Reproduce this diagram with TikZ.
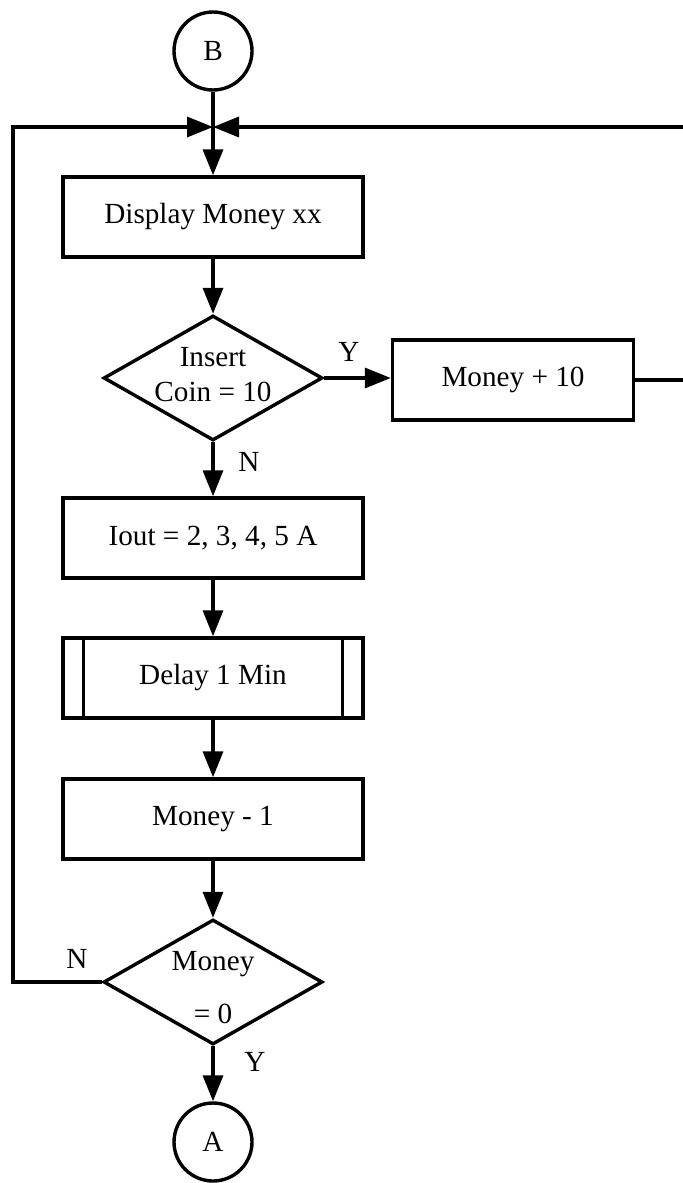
\documentclass[tikz,border=0pt]{standalone}
\usepackage{fontspec}
\setmainfont{Liberation Serif}
\usetikzlibrary{shapes.geometric,arrows.meta}
\begin{document}
\begin{tikzpicture}[
    x=0.5pt, y=-0.5pt,
    line width=1.7pt,
    font=\fontsize{14.6}{17.5}\selectfont,
    flowbox/.style={draw,rectangle,minimum width=150pt,minimum height=40pt,inner sep=0pt},
    decision/.style={draw,diamond,minimum width=109.5pt,minimum height=62.5pt,inner sep=0pt},
    connector/.style={draw,circle,minimum size=39pt,inner sep=0pt},
    flow/.style={-{Triangle[length=13pt,width=10pt]}}
  ]
  \useasboundingbox (0,0) rectangle (683,1183);
  \clip (0,0) rectangle (683,1183);

  \node[connector] (B) at (213,51) {B};
  \coordinate (join) at (213,127);
  \coordinate (lbend) at (13,127);
  \coordinate (rbend) at (690,127);

  \node[flowbox] (disp) at (213,217) {Display Money xx};
  \node[decision] (coin) at (213,378) {};
  \node[align=center] (cointxt) at (213,375) {Insert\\Coin = 10};
  \node[flowbox,minimum width=120.5pt] (madd) at (513,380) {Money + 10};
  \node[flowbox] (iout) at (213,538) {Iout = 2, 3, 4, 5 A};
  \node[flowbox] (delay) at (213,678) {Delay 1 Min};
  \draw ([xshift=11pt]delay.north west) -- ([xshift=11pt]delay.south west);
  \draw ([xshift=-11pt]delay.north east) -- ([xshift=-11pt]delay.south east);
  \node[flowbox] (msub) at (213,819) {Money - 1};
  \node[decision] (zero) at (213,982) {};
  \node[align=center] (zerotxt) at (213,988) {Money\\[9pt]= 0};
  \node[connector] (A) at (213,1142) {A};

  % labels
  \node (ycoin) at (349,352) {Y};
  \node (ncoin) at (249,462) {N};
  \node (nzero) at (77,959) {N};
  \node (yzero) at (255,1062) {Y};

  % connectors
  \draw[flow] (B) -- (disp);
  \draw[flow] (disp) -- (coin);
  \draw[flow] (coin.east) -- (coin.east -| madd.west);
  \draw[flow] (madd.east) -| (rbend) -- (join);
  \draw[flow] (coin) -- (iout);
  \draw[flow] (iout) -- (delay);
  \draw[flow] (delay) -- (msub);
  \draw[flow] (msub) -- (zero);
  \draw[flow] (zero.west) -| (lbend) -- (join);
  \draw[flow] (zero) -- (A);
\end{tikzpicture}
\end{document}
